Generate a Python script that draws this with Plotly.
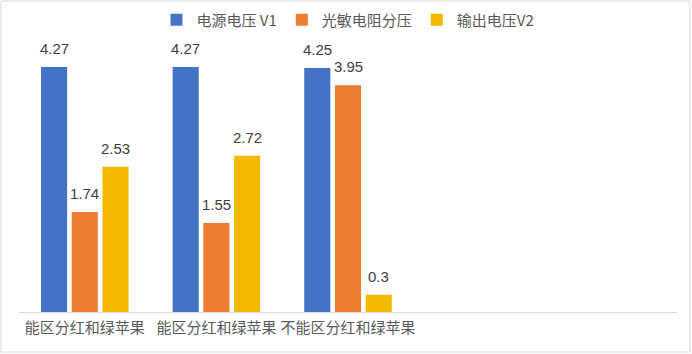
import plotly.graph_objects as go

categories = ["能区分红和绿苹果", "能区分红和绿苹果", "不能区分红和绿苹果"]
series_names = ["电源电压 V1", "光敏电阻分压", "输出电压V2"]
v1 = [4.27, 4.27, 4.25]
divider = [1.74, 1.55, 3.95]
v2 = [2.53, 2.72, 0.3]
colors = ["#4472C4", "#ED7D31", "#F2B900"]
n_slots = 5  # the category axis has room for five groups; only three are filled

W, H = 692, 354
ml, mr, mt, mb = 19, 15, 0, 42
pw, ph = W - ml - mr, H - mt - mb
axis_px = H - mb
px_per_unit = 57.4
bargap, bargroupgap = 0.30, 0.15

x = list(range(len(categories)))
series = [v1, divider, v2]
fig = go.Figure()
for name, vals, col in zip(series_names, series, colors):
    fig.add_trace(go.Bar(
        x=x, y=vals, name=name, marker=dict(color=col, line=dict(width=0)),
    ))

# data labels placed through the axes at each bar's grouped position
slot = (1 - bargap) / len(series)
for k, vals in enumerate(series):
    off = (k - (len(series) - 1) / 2) * slot
    for xi, v in zip(x, vals):
        fig.add_annotation(x=xi + off, y=v, xref="x", yref="y", text=f"{v:g}",
                           showarrow=False, yanchor="bottom", yshift=8,
                           font=dict(family="Liberation Sans, Arial", size=15, color="#404040"))

fig.update_layout(
    width=W, height=H,
    margin=dict(l=ml, r=mr, t=mt, b=mb, autoexpand=False),
    paper_bgcolor="white", plot_bgcolor="white",
    barmode="group", bargap=bargap, bargroupgap=bargroupgap,
    font=dict(family="Noto Sans CJK SC", color="#595959"),
    legend=dict(orientation="h", x=0.5, xanchor="center", y=(axis_px - 20) / ph, yanchor="middle",
                font=dict(size=15, color="#595959"), itemwidth=30, traceorder="normal",
                bgcolor="rgba(0,0,0,0)"),
    showlegend=True,
)
fig.update_xaxes(range=[-0.5, n_slots - 0.5], tickvals=x, ticktext=categories,
                 showline=True, linecolor="#D9D9D9", linewidth=1, ticks="",
                 ticklabelstandoff=2,
                 showgrid=False, zeroline=False,
                 tickfont=dict(size=15, color="#595959", family="Noto Sans CJK SC"))
fig.update_yaxes(range=[0, ph / px_per_unit], visible=False, showgrid=False, zeroline=False)

fig.add_shape(type="rect", xref="paper", yref="paper",
              x0=(1 - ml) / pw, x1=(690 - ml) / pw,
              y0=(axis_px - 352) / ph, y1=(axis_px - 1) / ph,
              line=dict(color="#D9D9D9", width=1), fillcolor="rgba(0,0,0,0)", layer="below")

fig.write_html("out.html")
